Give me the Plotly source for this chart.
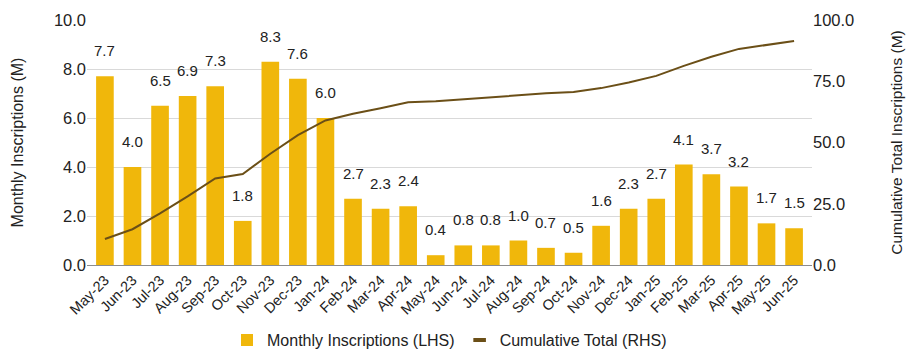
import plotly.graph_objects as go

months = ["May-23","Jun-23","Jul-23","Aug-23","Sep-23","Oct-23","Nov-23","Dec-23","Jan-24",
          "Feb-24","Mar-24","Apr-24","May-24","Jun-24","Jul-24","Aug-24","Sep-24","Oct-24",
          "Nov-24","Dec-24","Jan-25","Feb-25","Mar-25","Apr-25","May-25","Jun-25"]
monthly = [7.7,4.0,6.5,6.9,7.3,1.8,8.3,7.6,6.0,2.7,2.3,2.4,0.4,0.8,0.8,1.0,0.7,0.5,
           1.6,2.3,2.7,4.1,3.7,3.2,1.7,1.5]
cumulative = [10.6,14.6,21.1,28.0,35.3,37.1,45.4,53.0,59.0,61.7,64.0,66.4,66.8,67.6,68.4,
              69.4,70.1,70.6,72.2,74.5,77.2,81.3,85.0,88.2,89.9,91.4]

FONT = "Liberation Sans, Arial, sans-serif"
BAR_COLOR = "#F0B70B"
LINE_COLOR = "#6B4F17"

fig = go.Figure()
fig.add_trace(go.Bar(x=months, y=monthly, name="Monthly Inscriptions (LHS)",
                     marker=dict(color=BAR_COLOR, line=dict(width=0)), yaxis="y"))
fig.add_trace(go.Scatter(x=months, y=cumulative, name="Cumulative Total (RHS)", showlegend=False,
                         mode="lines", line=dict(color=LINE_COLOR, width=2), yaxis="y2"))
# legend-only entry with a short thick line symbol
fig.add_trace(go.Scatter(x=[None], y=[None], name="Cumulative Total (RHS)", mode="markers",
                         marker=dict(symbol="line-ew", size=9, color=LINE_COLOR,
                                     line=dict(width=4, color=LINE_COLOR)), yaxis="y2"))

for m, v in zip(months, monthly):
    fig.add_annotation(x=m, y=v, xref="x", yref="y", text=f"{v:.1f}", showarrow=False,
                       yanchor="bottom", yshift=15, font=dict(size=15, color="#222222", family=FONT))

fig.update_layout(
    width=913, height=351,
    margin=dict(l=87, r=101, t=20, b=86),
    plot_bgcolor="white", paper_bgcolor="white",
    font=dict(family=FONT, color="#222222", size=14),
    bargap=0.36,
    showlegend=True,
    legend=dict(orientation="h", x=0.5, xanchor="center", yref="container", y=0.031, yanchor="middle",
                font=dict(size=16, color="#222222"), traceorder="normal", itemwidth=30),
    xaxis=dict(tickangle=-45, showgrid=False, showline=True, linecolor="#8c8c8c", linewidth=1,
               ticks="", tickfont=dict(size=14.5), range=[-0.65, len(months) - 0.35], automargin=False),
    yaxis=dict(range=[0, 10], dtick=2, tickformat=".1f", showgrid=True, gridcolor="#d9d9d9",
               gridwidth=1, zeroline=False, ticks="", tickfont=dict(size=16.5), automargin=False,
               title=dict(text="Monthly Inscriptions (M)", font=dict(size=16), standoff=26)),
    yaxis2=dict(range=[0, 100], dtick=25, tickformat=".1f", overlaying="y", side="right",
                showgrid=False, zeroline=False, ticks="", tickfont=dict(size=16.5), automargin=False,
                title=dict(text="Cumulative Total Inscriptions (M)", font=dict(size=15.5), standoff=37)),
)

fig.write_html("out.html")
